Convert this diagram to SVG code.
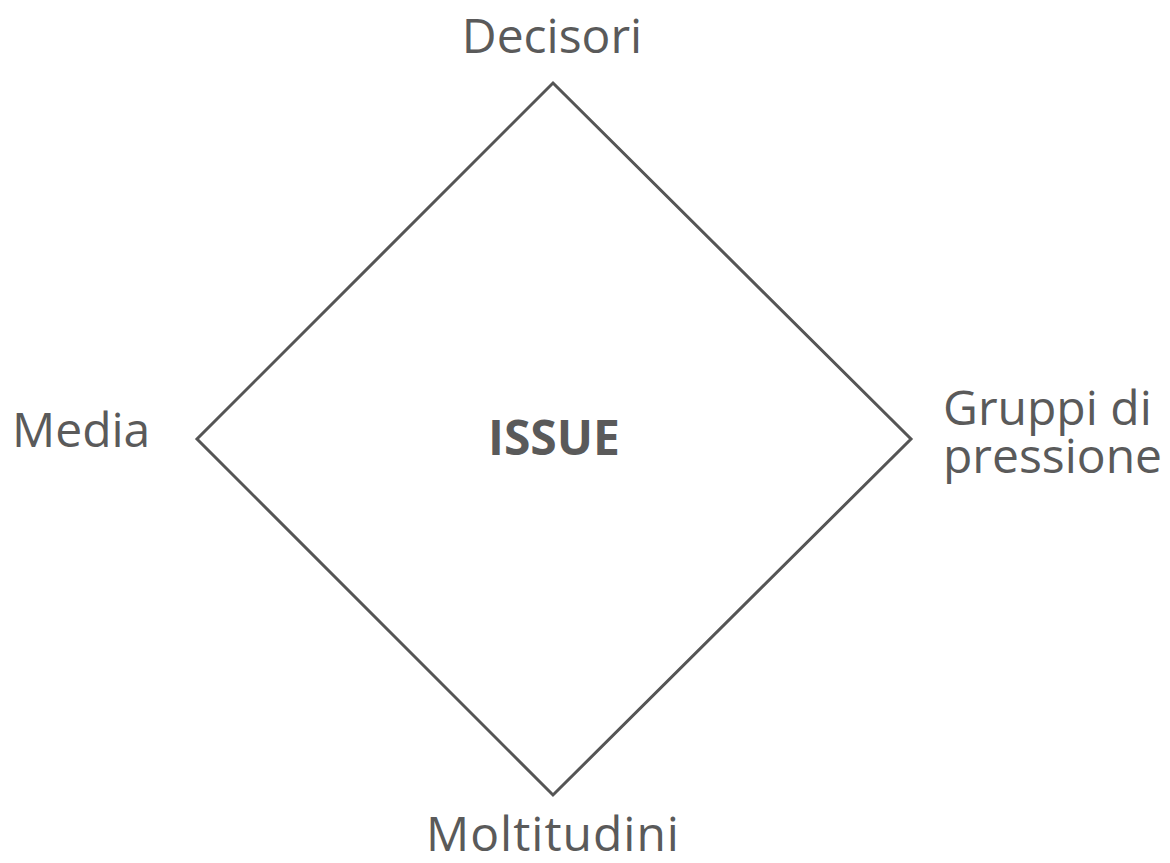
<svg xmlns="http://www.w3.org/2000/svg" width="1170" height="863" viewBox="0 0 1170 863">
<style>
.lbl{font-family:"Open Sans","Liberation Sans",sans-serif;font-size:48px;fill:#5a5a5a}
.b{font-weight:bold}
.edge{fill:none;stroke:#555;stroke-width:3;stroke-linejoin:miter}
</style>
<rect width="1170" height="863" fill="#fff"/>
<g id="connectors">
<path class="edge" d="M553,83 L911,439 L553,795 L197,439 Z"/>
</g>
<g id="issue"><text class="lbl b" x="554" y="455" text-anchor="middle">ISSUE</text></g>
<g id="decisori"><text class="lbl" x="552" y="53" text-anchor="middle">Decisori</text></g>
<g id="moltitudini"><text class="lbl" x="553" y="851" text-anchor="middle" letter-spacing="1">Moltitudini</text></g>
<g id="media"><text class="lbl" x="12" y="447">Media</text></g>
<g id="gruppi"><text class="lbl" x="943" y="425">Gruppi di</text><text class="lbl" x="943" y="473">pressione</text></g>
</svg>
